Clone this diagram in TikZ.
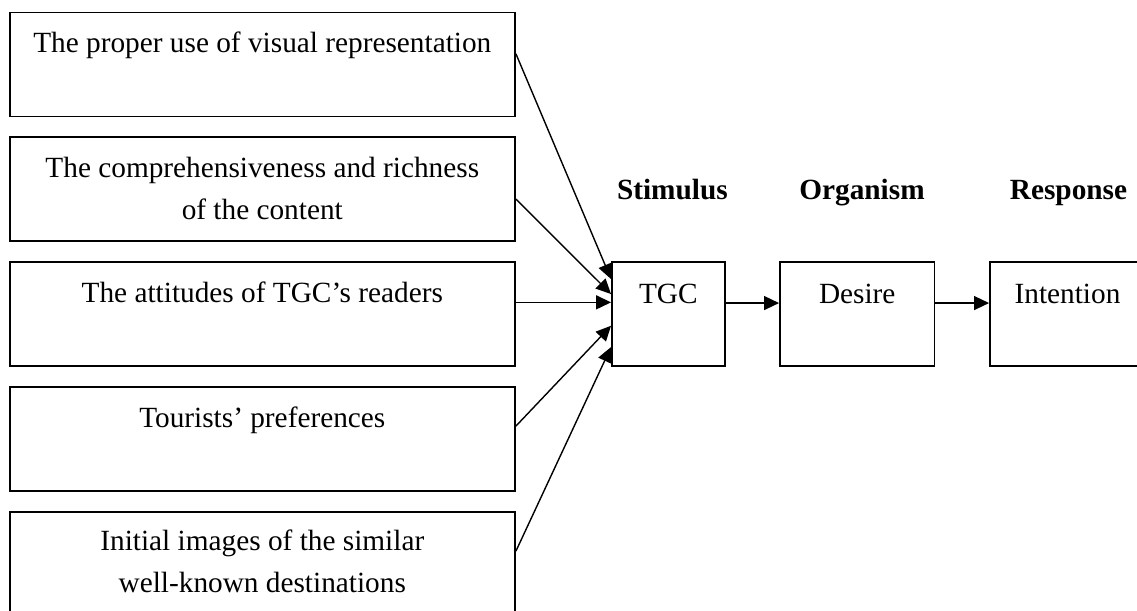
\documentclass[tikz,border=0pt]{standalone}
\usepackage{fontspec}
\setmainfont{Liberation Serif}
\usetikzlibrary{arrows.meta}
\begin{document}
\begin{tikzpicture}[x=1pt,y=-1pt,
  box/.style={draw, line width=1.9pt, minimum width=505.4pt, minimum height=104pt, inner sep=0pt},
  sbox/.style={draw, line width=1.9pt, minimum height=104pt, inner sep=0pt},
  txt/.style={anchor=base, align=center, inner sep=0pt, font=\fontsize{29.3}{42}\selectfont},
  head/.style={anchor=base, inner sep=0pt, font=\fontsize{29.3}{42}\selectfont\bfseries},
  arr/.style={line width=1.4pt, -{Triangle[length=15pt,width=14pt]}},
  link/.style={line width=1.4pt, -{Triangle[length=15pt,width=14pt]}}]
\useasboundingbox (0,0) rectangle (1137,610);
\clip (0,0) rectangle (1137,610);

% antecedent factors
\node[box] (b1) at (262.3,64.5) {};
\node[box] (b2) at (262.3,189) {};
\node[box] (b3) at (262.3,314) {};
\node[box] (b4) at (262.3,439) {};
\node[box] (b5) at (262.3,564) {};

% the base anchor of a two-line label sits on its last line
\node[txt] (t1) at ([yshift=-41pt]b1.north) {The proper use of visual representation};
\node[txt] (t2) at ([yshift=-83pt]b2.north) {The comprehensiveness and richness\\of the content};
\node[txt] (t3) at ([yshift=-41pt]b3.north) {The attitudes of TGC’s readers};
\node[txt] (t4) at ([yshift=-41pt]b4.north) {Tourists’ preferences};
\node[txt] (t5) at ([yshift=-81pt]b5.north) {Initial images of the similar\\well-known destinations};

% S-O-R chain
\node[sbox, minimum width=112.6pt] (tgc) at (668.3,314) {};
\node[sbox, minimum width=154.5pt] (desire) at (857.25,314) {};
\node[sbox, minimum width=155pt] (intent) at (1067.5,314) {};

\node[txt] (ttgc) at ([yshift=-42pt]tgc.north) {TGC};
\node[txt] (tdes) at ([yshift=-42pt]desire.north) {Desire};
\node[txt] (tint) at ([yshift=-42pt]intent.north) {Intention};

\node[head] (hs) at (672.4,199) {Stimulus};
\node[head] (ho) at (862,199) {Organism};
\node[head] (hr) at (1068.5,199) {Response};

% connectors
\draw[arr] ([yshift=-42.3pt]b1.north east) -- ([yshift=-18pt]tgc.north west);
\draw[arr] ([yshift=-63pt]b2.north east) -- ([yshift=-33pt]tgc.north west);
\draw[arr] ([yshift=-41.3pt]b3.north east) -- ([yshift=-41.3pt]tgc.north west);
\draw[arr] ([yshift=-40pt]b4.north east) -- ([yshift=-64.7pt]tgc.north west);
\draw[arr] ([yshift=-40pt]b5.north east) -- ([yshift=-86pt]tgc.north west);

\draw[link] ([yshift=-42pt]tgc.north east) -- ([yshift=-42pt]desire.north west);
\draw[link] ([yshift=-42pt]desire.north east) -- ([yshift=-42pt]intent.north west);
\end{tikzpicture}
\end{document}
